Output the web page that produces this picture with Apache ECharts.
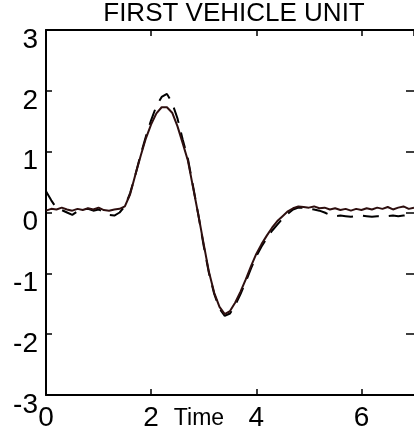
<!DOCTYPE html>
<html><head><meta charset="utf-8">
<script src="https://cdn.jsdelivr.net/npm/echarts@6/dist/echarts.min.js"></script>
<style>html,body{margin:0;padding:0;background:#fff}#c{width:414px;height:445px}</style>
</head><body><div id="c"></div>
<script>
const titleText = 'FIRST VEHICLE UNIT';
const xName = 'Time';
const time = [0.0,0.1,0.2,0.3,0.4,0.5,0.6,0.7,0.8,0.9,1.0,1.1,1.2,1.3,1.4,1.5,1.6,1.7,1.8,1.9,2.0,2.1,2.2,2.3,2.4,2.5,2.6,2.7,2.8,2.9,3.0,3.1,3.2,3.3,3.4,3.5,3.6,3.7,3.8,3.9,4.0,4.1,4.2,4.3,4.4,4.5,4.6,4.7,4.8,4.9,5.0,5.1,5.2,5.3,5.4,5.5,5.6,5.7,5.8,5.9,6.0,6.1,6.2,6.3,6.4,6.5,6.6,6.7,6.8,6.9,7.0];
const solid = [0.03,0.06,0.05,0.08,0.05,0.03,0.06,0.04,0.07,0.05,0.08,0.04,0.03,0.05,0.06,0.10,0.30,0.62,0.93,1.22,1.45,1.63,1.73,1.73,1.64,1.42,1.14,0.85,0.40,-0.05,-0.52,-0.98,-1.32,-1.55,-1.67,-1.62,-1.48,-1.30,-1.10,-0.88,-0.68,-0.52,-0.38,-0.25,-0.14,-0.06,0.02,0.07,0.10,0.09,0.08,0.10,0.07,0.08,0.05,0.07,0.04,0.06,0.03,0.06,0.04,0.07,0.05,0.08,0.06,0.09,0.05,0.08,0.10,0.06,0.08];
const dashed = [0.35,0.20,0.07,0.04,0.00,-0.04,0.02,0.05,0.06,0.03,0.05,0.01,-0.04,-0.05,0.00,0.10,0.32,0.62,0.95,1.25,1.52,1.75,1.90,1.95,1.80,1.55,1.20,0.88,0.42,-0.05,-0.55,-1.00,-1.34,-1.58,-1.70,-1.66,-1.52,-1.34,-1.14,-0.92,-0.72,-0.56,-0.42,-0.30,-0.20,-0.10,-0.02,0.05,0.08,0.08,0.06,0.05,0.03,0.00,-0.04,-0.06,-0.05,-0.06,-0.07,-0.06,-0.05,-0.06,-0.07,-0.06,-0.07,-0.06,-0.05,-0.06,-0.05,-0.04,-0.05];

const chart = echarts.init(document.getElementById('c'), null, {renderer:'canvas'});
const font = 'Liberation Sans, Arial, sans-serif';
const axLine = {show:true, onZero:false, lineStyle:{color:'#000', width:2}};
const tick = {show:true, inside:true, length:6, lineStyle:{color:'#000', width:1.5}};
chart.setOption({
  animation:false,
  backgroundColor:'#fff',
  grid:{left:46, right:-2, top:30, bottom:50, containLabel:false},
  graphic:[
    {type:'text', x:234, y:14, style:{text:titleText, fontFamily:font, fontSize:26, fill:'#000', align:'center', verticalAlign:'middle'}},
    {type:'text', x:199, y:419, style:{text:xName, fontFamily:font, fontSize:23, fill:'#000', align:'center', verticalAlign:'middle'}}
  ],
  xAxis:[
    {type:'value', min:0, max:7, interval:2, position:'bottom', axisLine:axLine, axisTick:tick, splitLine:{show:false},
     axisLabel:{show:true, showMaxLabel:false, margin:9, fontFamily:font, fontSize:28, color:'#000'}},
    {type:'value', min:0, max:7, interval:2, position:'top', axisLine:axLine, axisTick:tick, splitLine:{show:false}, axisLabel:{show:false}}
  ],
  yAxis:[
    {type:'value', min:-3, max:3, interval:1, position:'left', axisLine:axLine, axisTick:tick, splitLine:{show:false},
     axisLabel:{show:true, margin:8, fontFamily:font, fontSize:28, color:'#000', verticalAlign:'top', lineHeight:20}},
    {type:'value', min:-3, max:3, interval:1, position:'right', axisLine:{show:false, onZero:false},
     axisTick:{show:true, inside:true, length:8, lineStyle:{color:'#000', width:1.5}}, splitLine:{show:false}, axisLabel:{show:false}}
  ],
  series:[
    {type:'line', xAxisIndex:0, yAxisIndex:0, showSymbol:false, data:time.map((t,i)=>[t,dashed[i]]),
     lineStyle:{color:'#000', width:2, type:[16,10]}},
    {type:'line', xAxisIndex:0, yAxisIndex:0, showSymbol:false, data:time.map((t,i)=>[t,solid[i]]),
     lineStyle:{color:'#2e0f0f', width:2}}
  ]
});
</script></body></html>
